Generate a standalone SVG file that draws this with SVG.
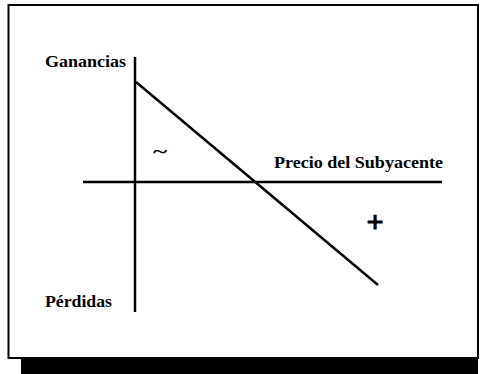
<svg xmlns="http://www.w3.org/2000/svg" width="481" height="374" viewBox="0 0 481 374">
<style>
.lbl{font-family:"Liberation Serif","DejaVu Serif",serif;font-weight:bold;fill:#000}
.ax{stroke:#000;stroke-width:2.5;fill:none}
</style>
<rect x="0" y="0" width="481" height="374" fill="#fff"/>
<rect x="21" y="359" width="457" height="15" fill="#000"/>
<rect x="8.5" y="5" width="469.5" height="353" fill="#fff" stroke="#000" stroke-width="2"/>
<g id="connectors">
<line class="ax" x1="135" y1="57" x2="135" y2="312"/>
<line class="ax" x1="83" y1="182" x2="442" y2="182"/>
<line class="ax" x1="136" y1="82" x2="378" y2="285"/>
</g>
<g id="ganancias"><text class="lbl" x="45" y="67" font-size="16" textLength="81" lengthAdjust="spacingAndGlyphs">Ganancias</text></g>
<g id="perdidas"><text class="lbl" x="45" y="307" font-size="16" textLength="67" lengthAdjust="spacingAndGlyphs">Pérdidas</text></g>
<g id="precio"><text class="lbl" x="274" y="168" font-size="16" textLength="169" lengthAdjust="spacingAndGlyphs">Precio del Subyacente</text></g>
<g id="minus"><text class="lbl" x="153" y="158" font-size="18" textLength="14" lengthAdjust="spacingAndGlyphs">~</text></g>
<g id="plus"><text class="lbl" x="375" y="232" font-size="30" text-anchor="middle" stroke="#000" stroke-width="1">+</text></g>
</svg>
